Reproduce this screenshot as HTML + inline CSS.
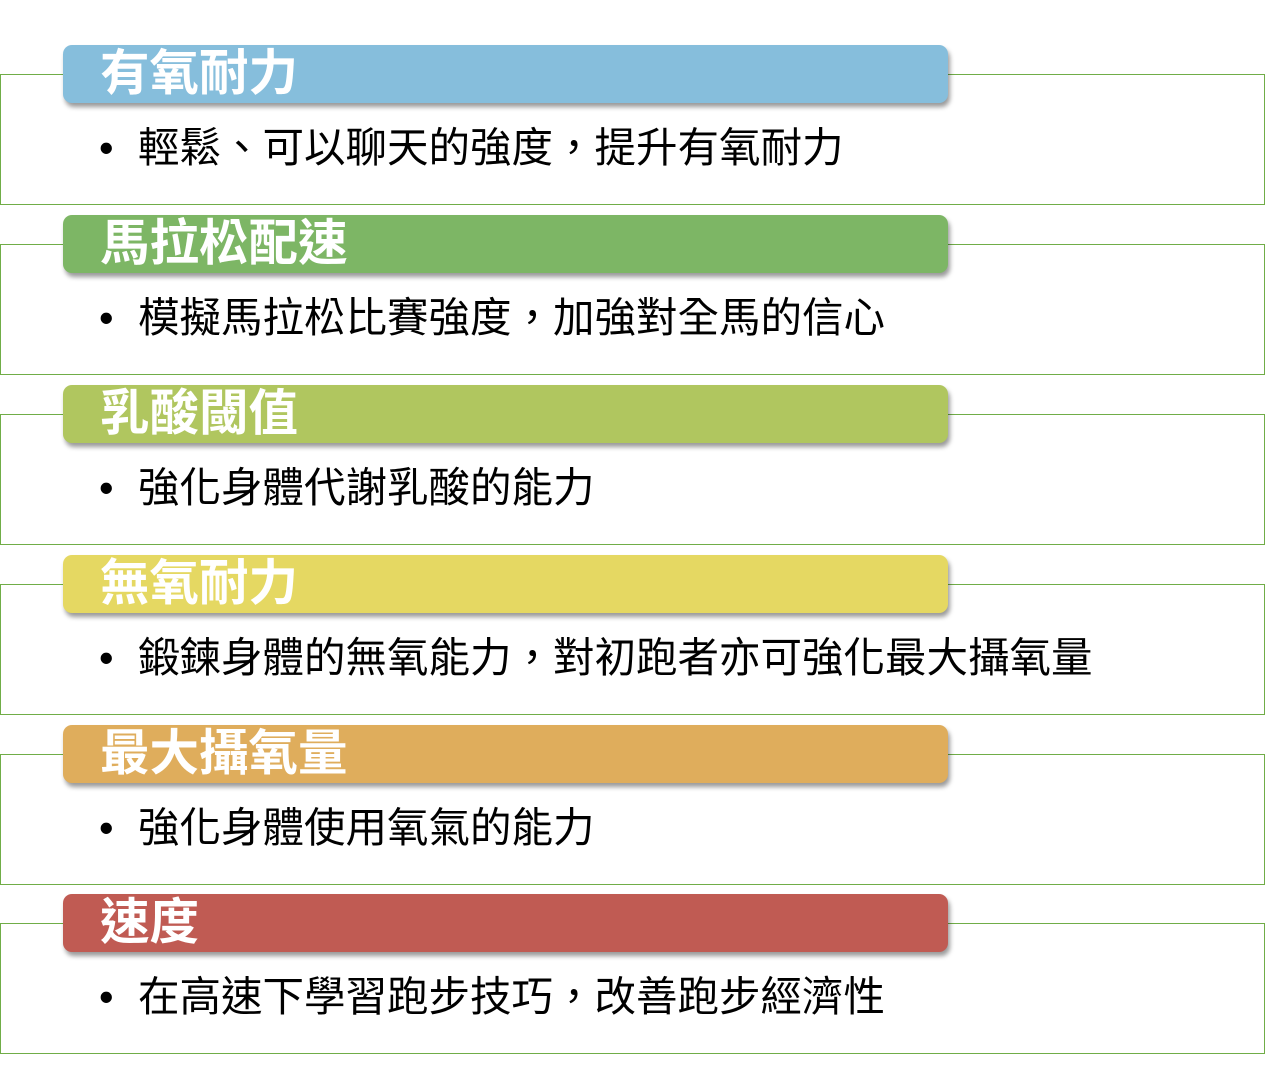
<!DOCTYPE html>
<html><head><meta charset="utf-8"><style>
html,body{margin:0;padding:0;background:#fff;width:1265px;height:1068px;overflow:hidden;position:relative;font-family:"Liberation Sans","Noto Sans CJK TC",sans-serif}
.box{position:absolute;left:0;width:1263px;height:129px;border:1.5px solid #70ad47;box-sizing:content-box}
.hd{position:absolute;left:63px;width:885px;height:58px;border-radius:9px;box-shadow:2px 4px 5px rgba(0,0,0,.4);color:#fff;font-weight:bold;font-size:49.5px;line-height:58px;padding-left:37px;box-sizing:border-box;white-space:nowrap}
.tx{position:absolute;left:99px;font-size:41.5px;line-height:50px;color:#000;white-space:nowrap}
.tx b{display:inline-block;width:39px;font-weight:normal}
</style></head><body>
<div class="box" style="top:74px"></div>
<div class="hd" style="top:45px;background:#86bedc">有氧耐力</div>
<div class="tx" style="top:123px"><b>•</b>輕鬆、可以聊天的強度，提升有氧耐力</div>

<div class="box" style="top:244px"></div>
<div class="hd" style="top:215px;background:#7db665">馬拉松配速</div>
<div class="tx" style="top:293px"><b>•</b>模擬馬拉松比賽強度，加強對全馬的信心</div>

<div class="box" style="top:414px"></div>
<div class="hd" style="top:385px;background:#b0c65f">乳酸閾值</div>
<div class="tx" style="top:463px"><b>•</b>強化身體代謝乳酸的能力</div>

<div class="box" style="top:584px"></div>
<div class="hd" style="top:555px;background:#e5d862">無氧耐力</div>
<div class="tx" style="top:633px"><b>•</b>鍛鍊身體的無氧能力，對初跑者亦可強化最大攝氧量</div>

<div class="box" style="top:754px"></div>
<div class="hd" style="top:725px;background:#dfad5c">最大攝氧量</div>
<div class="tx" style="top:803px"><b>•</b>強化身體使用氧氣的能力</div>

<div class="box" style="top:923px"></div>
<div class="hd" style="top:894px;background:#c05b53">速度</div>
<div class="tx" style="top:972px"><b>•</b>在高速下學習跑步技巧，改善跑步經濟性</div>
</body></html>
